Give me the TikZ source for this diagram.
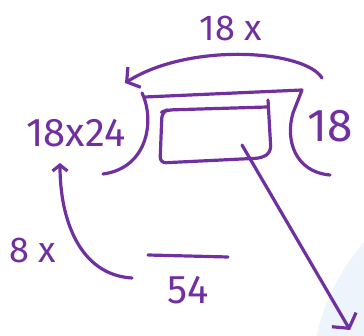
\documentclass[tikz,border=0pt]{standalone}
\usepackage{fontspec}
\setmainfont{Fira Sans}
\usepackage{tikz}
\usetikzlibrary{positioning, arrows.meta}
\definecolor{ink}{HTML}{7030A0}
\definecolor{inklight}{HTML}{EEF4FB}
\tikzset{
  pen/.style    = {draw=ink, line width=3.2pt, line cap=round, line join=round},
  penarr/.style = {pen, -{Straight Barb[length=9pt, width=24pt]}},
  num/.style    = {text=ink, inner sep=0pt, font=\fontsize{40}{42}\selectfont},
  bignum/.style = {num, font=\fontsize{46}{48}\selectfont},
  smallnum/.style = {num, font=\fontsize{36}{38}\selectfont},
}

\begin{document}
\begin{tikzpicture}[x=1pt, y=-1pt]

  \useasboundingbox (0,0) rectangle (364,336);

  % ----- faint backdrop -----
  \begin{scope}
    \clip (0,0) rectangle (364,336);
    \fill[inklight] (520,380) circle (208);
  \end{scope}

  % ----- numbers -----
  \node[smallnum] (topfac) at (231,28) {18 x};
  \node[num] (prod) at (76,133) {18x24};
  \node[bignum] (right18) at (330,126) {18};
  \node[smallnum] (leftfac) at (33,250) {8 x};
  \node[num] (sum) at (188,290) {54};

  % ----- bracket around the box -----
  \draw[pen] (142,93) .. controls (155,120) and (148,168) .. (103,174);
  \draw[pen] (145,97) -- (302,90) -- (293,113)
             .. controls (285,140) and (295,172) .. (330,175);
  \draw[pen, rounded corners=6pt] (268,100) -- (271,152) -- (262,158)
             -- (160,163) -- (162,112) -- (167,110) -- (267,107);

  % ----- line over the sum -----
  \coordinate (barl) at (148,255);
  \coordinate (barr) at (228,257);
  \draw[pen] (barl) -- (barr);

  % ----- arrows -----
  \coordinate (arcfrom) at (322,78);
  \coordinate (arcto) at (125,83);
  \draw[penarr] (arcfrom) .. controls (305,50) and (190,42) .. (arcto);

  \coordinate (loopfrom) at (132,278);
  \coordinate (loopto) at (60,163);
  \draw[penarr, -{Straight Barb[length=6pt, width=15pt]}]
       (loopfrom) .. controls (80,275) and (60,220) .. (loopto);

  \coordinate (outfrom) at (242,145);
  \coordinate (outto) at (350,330);
  \draw[penarr, -{Straight Barb[length=10pt, width=28pt]}] (outfrom) -- (outto);

\end{tikzpicture}
\end{document}
